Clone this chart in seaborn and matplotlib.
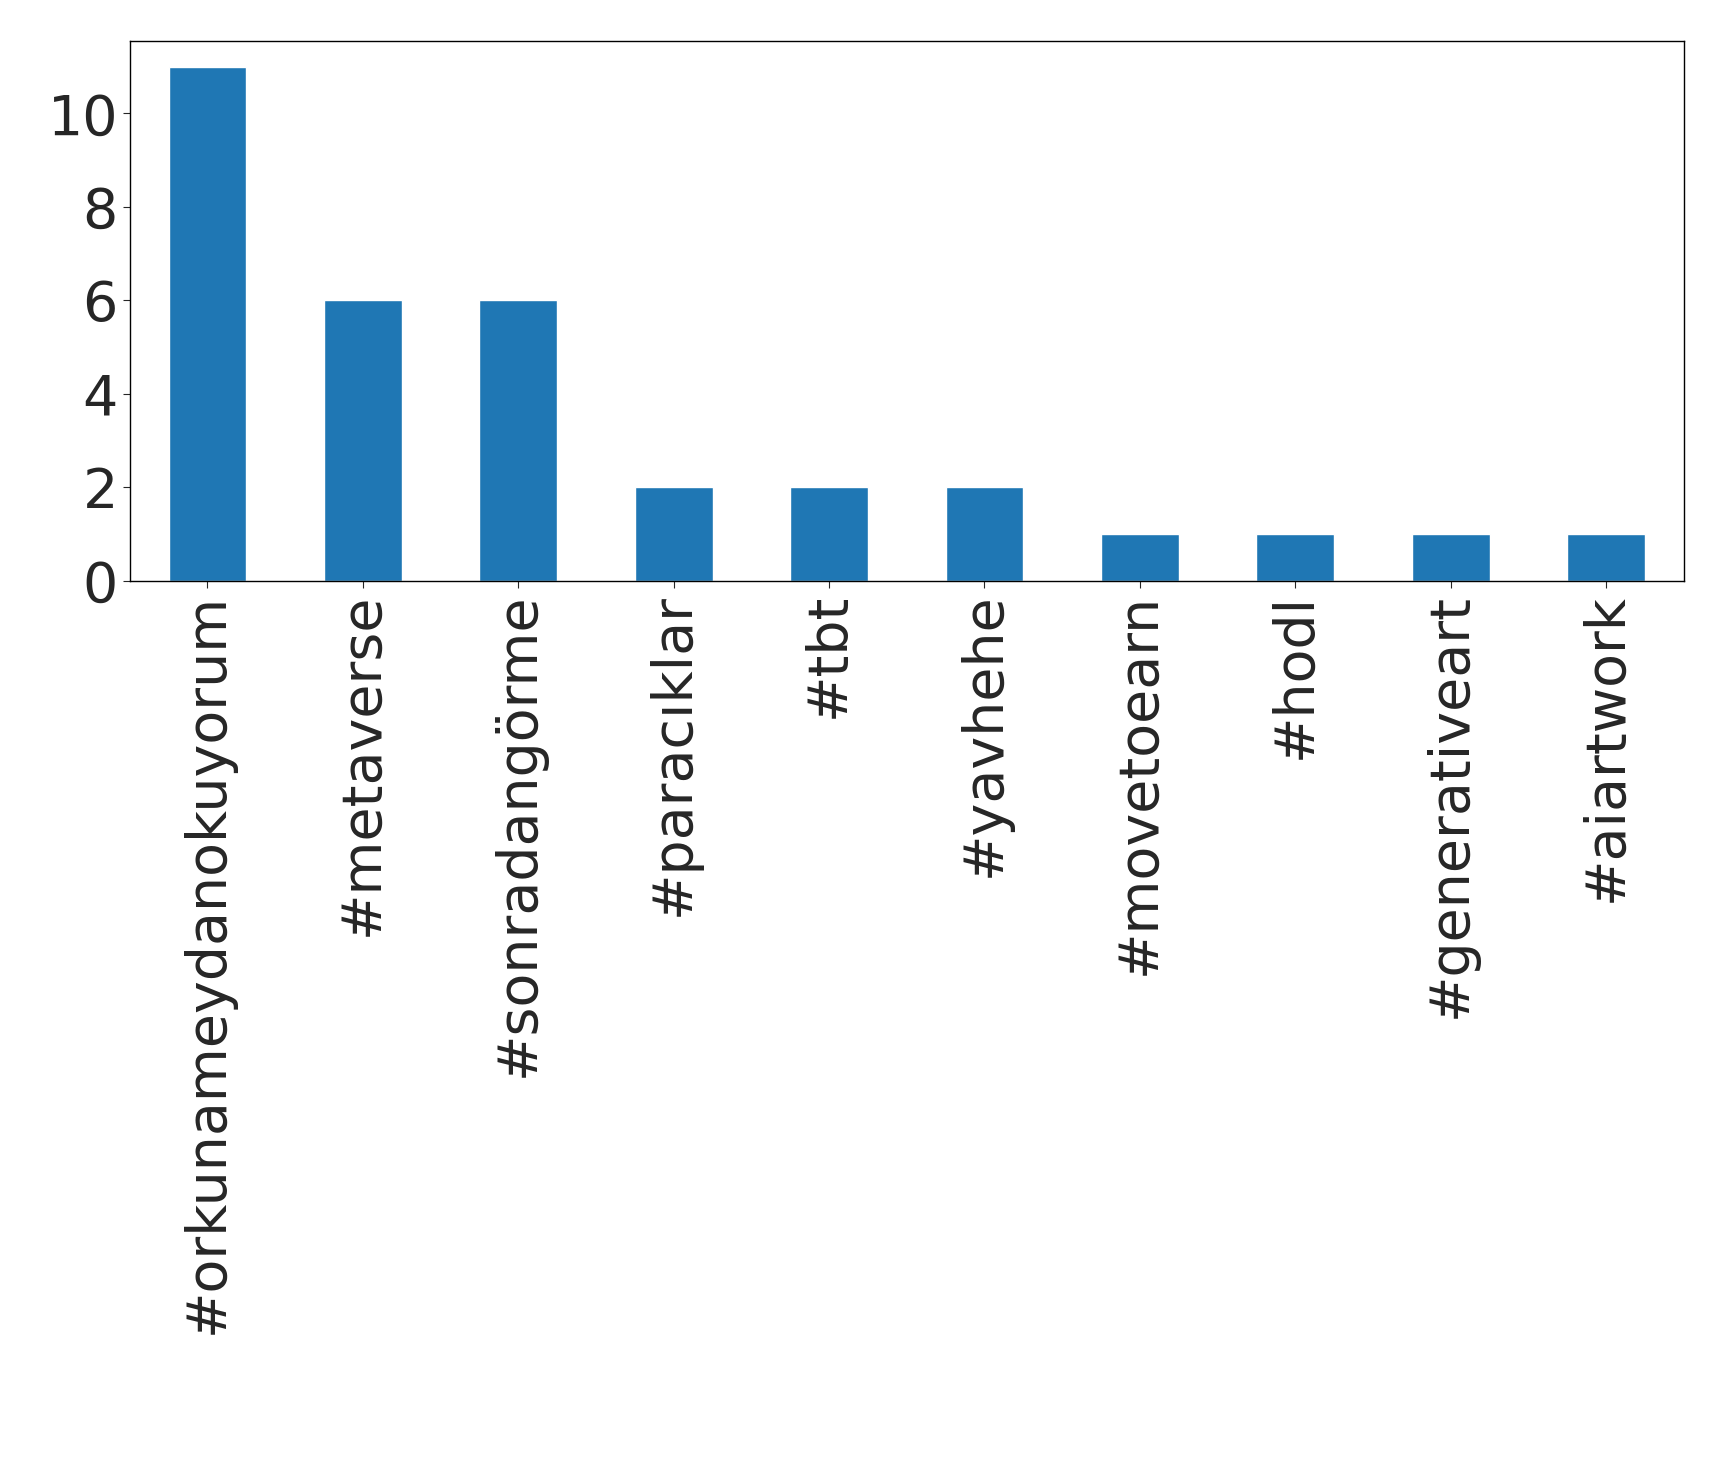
import matplotlib
matplotlib.use("Agg")
import matplotlib.pyplot as plt
import seaborn as sns

tags = ["#orkunameydanokuyorum", "#metaverse", "#sonradangörme", "#paracıklar", "#tbt",
        "#yavhehe", "#movetoearn", "#hodl", "#generativeart", "#aiartwork"]
counts = [11, 6, 6, 2, 2, 2, 1, 1, 1, 1]

sns.set_style("white")
plt.rcParams['font.family'] = ['DejaVu Sans']
fig = plt.figure(figsize=(17.19, 14.63), dpi=100)
ax = fig.add_axes([0.0755, 0.603, 0.904, 0.369])
sns.barplot(x=tags, y=counts, color="#1f77b4", saturation=1, width=0.5, ax=ax)
ax.set_xlim(-0.5, 9.5)
ax.set_ylim(0, 11.55)
ax.set_yticks([0, 2, 4, 6, 8, 10])
ax.tick_params(axis='both', labelsize=40, length=5, left=True, bottom=True)
for l in ax.get_xticklabels():
    l.set_rotation(90)
for s in ax.spines.values():
    s.set_visible(True); s.set_color("black"); s.set_linewidth(1)
fig.savefig("out.png", dpi=100)
